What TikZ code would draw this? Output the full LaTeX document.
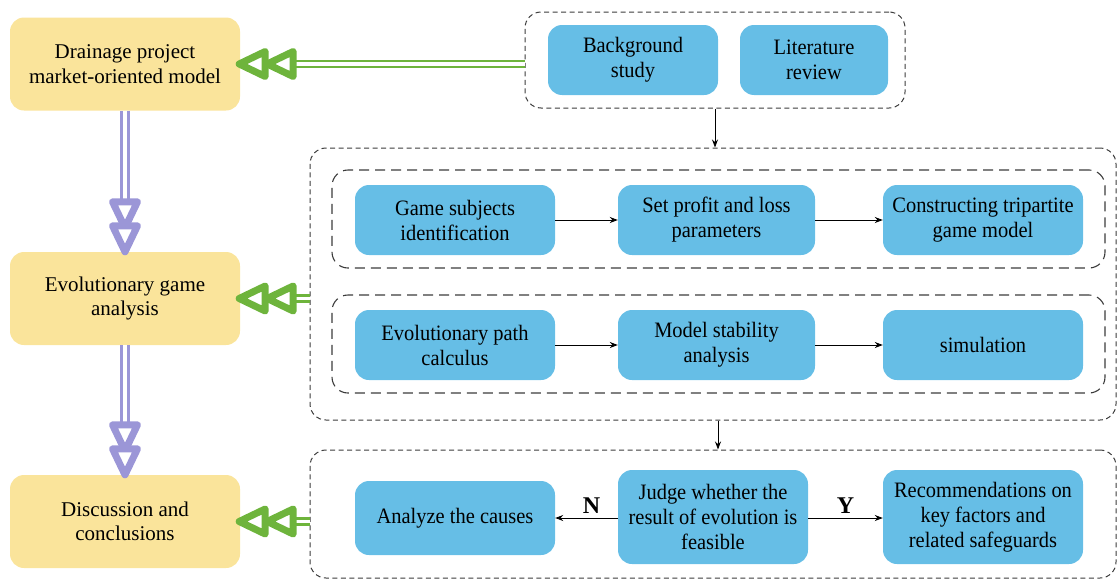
\documentclass[tikz,border=0pt]{standalone}
\usepackage{fontspec}
\setmainfont{Liberation Serif}
\newfontfamily\serifA{Liberation Serif}
\newfontfamily\condfont[FakeStretch=0.93]{Liberation Serif}
\usetikzlibrary{arrows.meta}
\definecolor{ylw}{RGB}{250,228,155}
\definecolor{blu}{RGB}{102,190,230}
\definecolor{grn}{RGB}{110,180,60}
\definecolor{prp}{RGB}{155,150,215}
\definecolor{dgray}{RGB}{60,60,60}
\begin{document}
\begin{tikzpicture}[x=1pt,y=-1pt,
  ybox/.style={fill=ylw, rounded corners=14pt, minimum width=230pt, minimum height=93pt, align=center, font=\serifA\fontsize{21}{24.5}\selectfont, inner sep=0pt},
  bbox/.style={fill=blu, rounded corners=14pt, minimum height=70pt, minimum width=200pt, align=center, font=\condfont\fontsize{22}{25}\selectfont, inner sep=0pt},
  dbox/.style={draw=dgray, dash pattern=on 5pt off 3.5pt, line width=1pt, rounded corners=16pt, inner sep=0pt},
  dboxin/.style={draw=dgray, dash pattern=on 10pt off 6pt, line width=1.1pt, rounded corners=16pt, inner sep=0pt},
  flow/.style={draw=black, line width=0.9pt, -{Stealth[length=8pt, width=6pt]}},
  gdbl/.style={draw=grn, double=white, double distance=3.5pt, line width=2.6pt},
  pdbl/.style={draw=prp, double=white, double distance=4.5pt, line width=2.6pt},
  gtri/.style={draw=grn, fill=white, line width=7pt, line join=round},
  ptri/.style={draw=prp, fill=white, line width=7pt, line join=round},
  lbl/.style={font=\serifA\bfseries\fontsize{24}{26}\selectfont, inner sep=2pt}
]
\useasboundingbox (0,0) rectangle (1118,581);

% left column
\node[ybox] (drain) at (125,64) {Drainage project\\market-oriented model};
\node[ybox] (evo) at (125,298.5) {Evolutionary game\\analysis};
\node[ybox] (disc) at (125,521.5) {Discussion and\\conclusions};

% top group
\node[dbox, minimum width=380pt, minimum height=96pt] (topgrp) at (715,60) {};
\node[bbox, minimum width=170pt] (bg) at (633,60) {Background\\study};
\node[bbox, minimum width=148pt] (lit) at (814,60) {Literature\\review};

% middle group
\node[dbox, minimum width=806pt, minimum height=272pt] (midgrp) at (713,284) {};
\node[dboxin, minimum width=773pt, minimum height=98pt] (row1) at (718.5,219) {};
\node[dboxin, minimum width=773pt, minimum height=98pt] (row2) at (718.5,344) {};
\node[bbox] (game) at (455,220) {Game subjects\\identification};
\node[bbox, minimum width=197pt] (setp) at (716.5,220) {Set profit and loss\\parameters};
\node[bbox] (cons) at (983,220) {Constructing tripartite\\game model};
\node[bbox] (evop) at (455,345) {Evolutionary path\\calculus};
\node[bbox, minimum width=197pt] (stab) at (716.5,345) {Model stability\\analysis};
\node[bbox] (sim) at (983,345) {simulation};

% bottom group
\node[dbox, minimum width=806pt, minimum height=128pt] (botgrp) at (713,514) {};
\node[bbox, minimum height=74pt] (cause) at (455,518) {Analyze the causes};
\node[bbox, minimum width=190pt, minimum height=94pt] (judge) at (713,517) {Judge whether the\\result of evolution is\\feasible};
\node[bbox, minimum height=94pt] (rec) at (983,517) {Recommendations on\\key factors and\\related safeguards};

% flow arrows
\draw[flow] (topgrp.south) -- (topgrp.south |- midgrp.north);
\draw[flow] ([xshift=5pt]midgrp.south) -- ([xshift=5pt]botgrp.north);
\draw[flow] (game) -- (setp);
\draw[flow] (setp) -- (cons);
\draw[flow] (evop) -- (stab);
\draw[flow] (stab) -- (sim);
\draw[flow] (judge.west |- cause.east) -- node[lbl, above=2pt, pos=0.42] {N} (cause.east);
\draw[flow] (judge.east |- cause.east) -- node[lbl, above=2pt, pos=0.5] {Y} (rec.west |- cause.east);

% green links
\foreach \b/\g in {drain/topgrp, evo/midgrp, disc/botgrp}{
  \draw[gdbl] (\b.east -| \g.west) -- ([xshift=40pt]\b.east);
  \draw[gtri] ([xshift=27pt]\b.east) -- ++(26,-12.5) -- ++(0,25) -- cycle;
  \draw[gtri] ([xshift=-1pt]\b.east) -- ++(26,-12.5) -- ++(0,25) -- cycle;
}

% purple links
\foreach \a/\b in {drain/evo, evo/disc}{
  \draw[pdbl] (\a.south) -- ([yshift=40pt]\b.north);
  \draw[ptri] ([yshift=24pt]\b.north) -- ++(-12.5,-26) -- ++(25,0) -- cycle;
  \draw[ptri] (\b.north) -- ++(-12.5,-26) -- ++(25,0) -- cycle;
}
\end{tikzpicture}
\end{document}
